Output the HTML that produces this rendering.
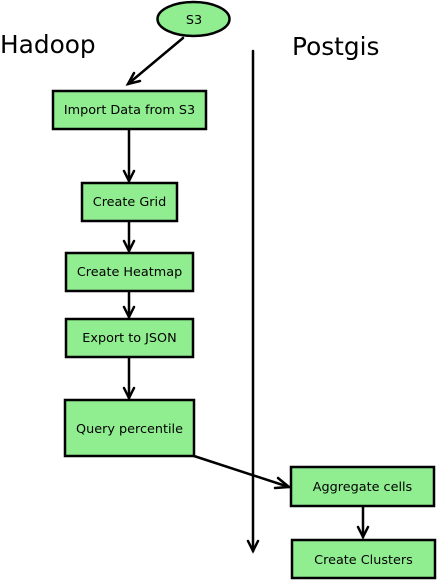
<!DOCTYPE html>
<html><head><meta charset="utf-8"><style>
html,body{margin:0;padding:0;background:#fff;width:437px;height:581px;overflow:hidden}
text{font-family:"DejaVu Sans","Liberation Sans",sans-serif;fill:#000}
</style></head><body>
<svg width="437" height="581" viewBox="0 0 437 581" xmlns="http://www.w3.org/2000/svg">
<g stroke="#000" stroke-width="2.5" fill="none" stroke-linecap="round">
<line x1="183" y1="38" x2="128" y2="84"/><polyline points="134,73 128,84 140,81"/>
<line x1="129" y1="129" x2="129" y2="181"/><polyline points="124,171 129,181 134,171"/>
<line x1="129" y1="221" x2="129" y2="251"/><polyline points="124,241 129,251 134,241"/>
<line x1="129" y1="291" x2="129" y2="317"/><polyline points="124,307 129,317 134,307"/>
<line x1="129" y1="357" x2="129" y2="398"/><polyline points="124,388 129,398 134,388"/>
<line x1="194" y1="456" x2="289" y2="487"/><polyline points="278,478 289,487 275,488"/>
<line x1="363" y1="506" x2="363" y2="537"/><polyline points="358,527 363,537 368,527"/>
<line x1="253" y1="51" x2="253" y2="551"/><polyline points="248,541 253,551 258,541"/>
</g>
<g fill="#90ee90" stroke="#000" stroke-width="2.5">
<ellipse cx="193.5" cy="19" rx="36" ry="17"/>
<rect x="53" y="91" width="153" height="38"/>
<rect x="82" y="183" width="95" height="38"/>
<rect x="66" y="253" width="127" height="38"/>
<rect x="66" y="319" width="127" height="38"/>
<rect x="65" y="400" width="129" height="56"/>
<rect x="291" y="467" width="143" height="39"/>
<rect x="292" y="540" width="143" height="38"/>
</g>
<text x="0" y="53" font-size="24.8">Hadoop</text>
<text x="292" y="55" font-size="24.8">Postgis</text>
<g font-size="12.8" text-anchor="middle">
<text x="194" y="24">S3</text>
<text x="129.5" y="114">Import Data from S3</text>
<text x="129.5" y="206">Create Grid</text>
<text x="129.5" y="276">Create Heatmap</text>
<text x="129.5" y="342">Export to JSON</text>
<text x="129.5" y="433">Query percentile</text>
<text x="362.5" y="491">Aggregate cells</text>
<text x="363.5" y="564">Create Clusters</text>
</g>
</svg>
</body></html>
